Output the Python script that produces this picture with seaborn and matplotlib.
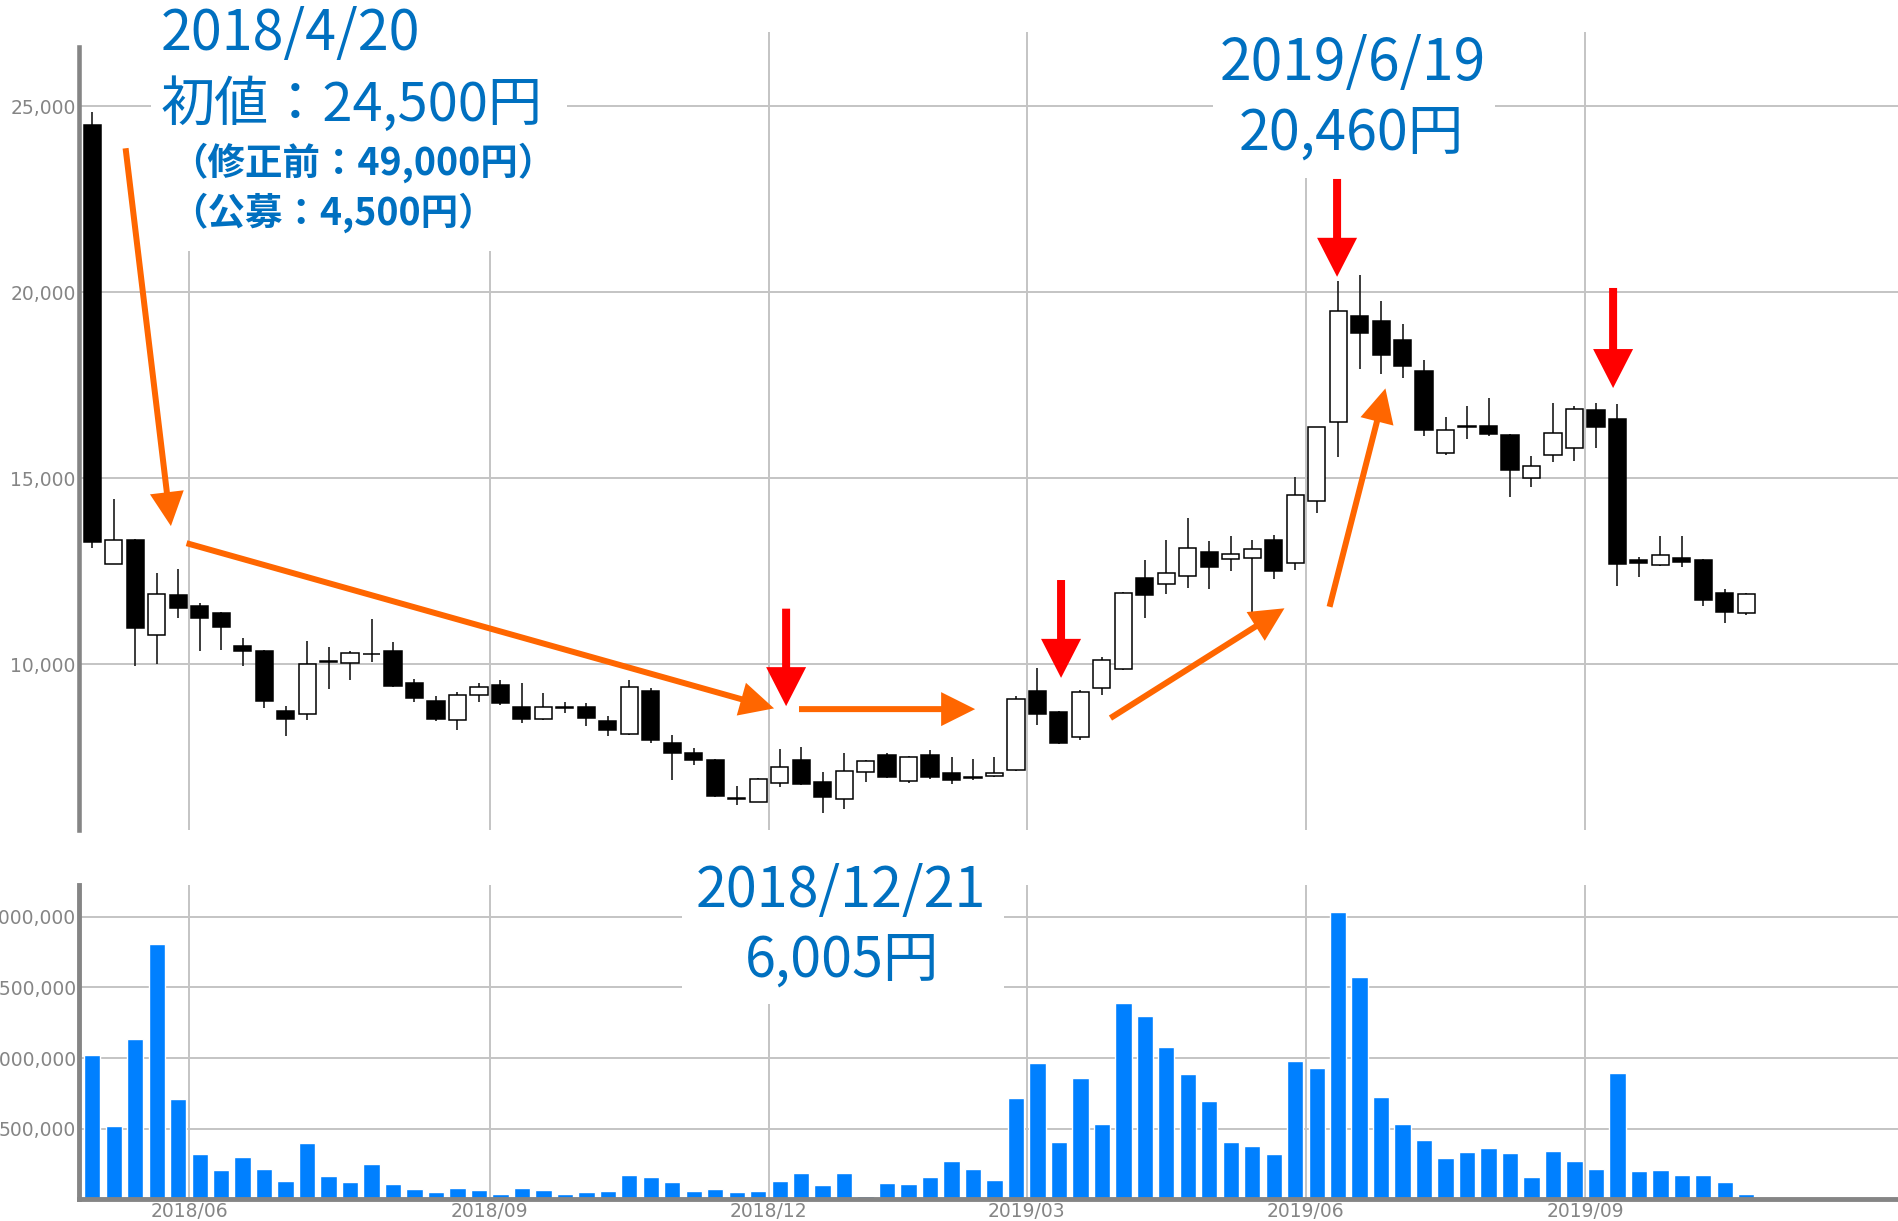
import numpy as np
import pandas as pd
import matplotlib
matplotlib.use("Agg")
import matplotlib.pyplot as plt
from matplotlib.patches import Rectangle
from matplotlib.ticker import FuncFormatter
import seaborn as sns

sns.set_style("white")
plt.rcParams["font.family"] = ["Noto Sans CJK JP", "DejaVu Sans"]

# weekly prices (yen), first week = IPO week 2018/4/20
opens = [24500, 12700, 13350, 10780, 11870, 11570, 11380, 10500, 10370, 8760,
         8670, 10070, 10030, 10270, 10350, 9500, 9020, 8510, 9180, 9450,
         8870, 8530, 8830, 8870, 8490, 8130, 9300, 7900, 7610, 7430,
         6380, 6310, 6820, 7420, 6850, 6390, 7120, 7570, 6870, 7570,
         7070, 6960, 6990, 7160, 9300, 8730, 8040, 9360, 9880, 12320,
         12160, 12380, 13020, 12830, 12850, 13350, 12740, 14400, 16530, 19370,
         19220, 18720, 17890, 15690, 16400, 16410, 16170, 15000, 15630, 15810,
         16840, 16590, 12810, 12670, 12870, 12810, 11930, 11380]
highs = [24850, 14440, 13360, 12470, 12560, 11660, 11400, 10700, 10390, 8880,
         10620, 10480, 10350, 11210, 10610, 9600, 9140, 9270, 9510, 9580,
         9510, 9220, 9000, 8960, 8620, 9580, 9360, 8100, 7750, 7450,
         6730, 6940, 7730, 7770, 7120, 7630, 7430, 7610, 7540, 7700,
         7500, 7450, 7500, 9140, 9900, 8760, 9310, 10190, 11950, 12810,
         13350, 13930, 13320, 13450, 13350, 13480, 15050, 16390, 20320, 20460,
         19780, 19150, 18190, 16640, 16950, 17150, 16200, 15600, 17040, 16950,
         17040, 17000, 12900, 13440, 13440, 12830, 12020, 11930]
lows = [13120, 12690, 9960, 10000, 11240, 10370, 10390, 9970, 8820, 8080,
        8510, 9340, 9580, 10080, 9400, 9000, 8490, 8240, 9000, 8910,
        8440, 8510, 8690, 8350, 8080, 8110, 7900, 6900, 7300, 6430,
        6220, 6300, 6720, 6760, 6005, 6110, 6850, 6940, 6820, 6930,
        6790, 6890, 6980, 7140, 8370, 7860, 7970, 9180, 9850, 11240,
        11890, 12050, 12020, 12520, 11240, 12290, 12540, 14060, 15570, 17930,
        17810, 17690, 16140, 15630, 16050, 16140, 14510, 14780, 15430, 15470,
        15810, 12110, 12340, 12650, 12610, 11570, 11110, 11330]
closes = [13300, 13350, 10970, 11900, 11530, 11260, 11000, 10370, 9020, 8540,
          10000, 10080, 10300, 10280, 9420, 9090, 8540, 9180, 9390, 8960,
          8530, 8870, 8850, 8550, 8240, 9400, 7970, 7610, 7420, 6470,
          6390, 6910, 7250, 6790, 6430, 7150, 7410, 6970, 7520, 6970,
          6900, 6970, 7090, 9060, 8670, 7880, 9260, 10120, 11920, 11870,
          12450, 13120, 12630, 12960, 13110, 12500, 14560, 16370, 19500, 18920,
          18320, 18020, 16300, 16300, 16370, 16200, 15230, 15340, 16210, 16860,
          16390, 12690, 12720, 12940, 12760, 11730, 11420, 11890]
volumes = [1021000, 522000, 1135000, 1806000, 713000, 324000, 208000, 302000, 213000, 133000,
           399000, 163000, 121000, 253000, 107000, 74000, 50000, 83000, 67000, 36000,
           83000, 69000, 41000, 50000, 60000, 175000, 161000, 121000, 62000, 74000,
           50000, 60000, 130000, 185000, 102000, 189000, 24000, 114000, 107000, 156000,
           274000, 213000, 138000, 720000, 962000, 406000, 861000, 533000, 1387000, 1297000,
           1080000, 887000, 698000, 408000, 378000, 321000, 979000, 927000, 2035000, 1575000,
           727000, 533000, 420000, 291000, 336000, 361000, 331000, 161000, 345000, 274000,
           218000, 892000, 203000, 208000, 173000, 173000, 121000, 36000]

# first weekly candle of each labelled month
month_labels = ["2018/06", "2018/09", "2018/12", "2019/03", "2019/06", "2019/09"]
month_first_week = [5, 19, 32, 44, 57, 70]

price_ticks = [10000, 15000, 20000, 25000]
price_minor = [6250, 7500, 8750, 11250, 12500, 17500, 21250, 22500]
volume_ticks = [500000, 1000000, 1500000, 2000000]

# arrows drawn on the chart: (x start, y start, x end, y end) in week / yen
red_arrows = [(32.3, 11500, 32.3, 8880), (45.1, 12270, 45.1, 9640),
              (57.95, 23050, 57.95, 20420), (70.8, 20120, 70.8, 17430)]
orange_arrows = [(1.55, 23875, 3.66, 13720), (4.39, 13260, 31.74, 8820),
                 (32.9, 8800, 41.1, 8800), (47.4, 8560, 55.5, 11510),
                 (57.6, 11550, 60.2, 17420)]

TEXT_BLUE = "#0070c0"
GRID = "#c4c4c4"
AXIS_GRAY = "#858585"

opens, highs, lows, closes = map(np.array, (opens, highs, lows, closes))
week = np.arange(len(closes))
grid_x = np.array(month_first_week) - 0.5
xlim = (-0.642, 84.11)

fig = plt.figure(figsize=(18.99, 12.21), dpi=100)
ax = fig.add_axes([0.04134, 0.32023, 0.95866, 0.65356])
axv = fig.add_axes([0.04134, 0.01769, 0.95866, 0.25749])

# candlesticks
up = closes >= opens
body_lo = np.minimum(opens, closes)
body_h = np.maximum(np.abs(closes - opens), 25)
ax.vlines(week, lows, highs, color="#1a1a1a", lw=1.2, zorder=2)
ax.bar(week, body_h, bottom=body_lo, width=0.8,
       color=["white" if u else "black" for u in up],
       edgecolor="black", linewidth=1.1, zorder=3)

ax.set_xlim(xlim)
ax.set_ylim(5551, 27000)
ax.set_xticks(grid_x)
ax.set_xticklabels([])
ax.set_yticks(price_ticks)
ax.set_yticks(price_minor, minor=True)
ax.yaxis.set_major_formatter(FuncFormatter(lambda v, p: f"{int(v):,}"))
ax.tick_params(axis="both", which="major", length=0, pad=2)
ax.tick_params(axis="y", which="major", labelsize=13.5, labelcolor=AXIS_GRAY,
               labelfontfamily="DejaVu Sans")
ax.tick_params(axis="y", which="minor", length=6, width=1, color="#a0a0a0")
ax.grid(True, which="major", color=GRID, lw=1.4)
ax.set_axisbelow(True)
for s in ["top", "right", "bottom"]:
    ax.spines[s].set_visible(False)
ax.spines["left"].set_color(AXIS_GRAY)
ax.spines["left"].set_linewidth(3.3)
ax.spines["left"].set_bounds(5551, 26600)

# volume
vol_df = pd.DataFrame({"week": week, "volume": volumes})
sns.barplot(data=vol_df, x="week", y="volume", native_scale=True, width=0.76,
            color="#0080ff", saturation=1, errorbar=None, ax=axv, zorder=2)
axv.set_xlim(xlim)
axv.set_ylim(0, 2223500)
axv.set_xlabel("")
axv.set_ylabel("")
axv.set_xticks(grid_x)
axv.set_xticklabels(month_labels)
axv.set_yticks(volume_ticks)
axv.yaxis.set_major_formatter(FuncFormatter(lambda v, p: f"{int(v):,}"))
axv.tick_params(axis="both", which="major", length=0, pad=2, labelsize=13.5,
                labelcolor=AXIS_GRAY, labelfontfamily="DejaVu Sans")
axv.grid(True, which="major", color=GRID, lw=1.4)
axv.set_axisbelow(True)
for s in ["top", "right"]:
    axv.spines[s].set_visible(False)
for s in ["left", "bottom"]:
    axv.spines[s].set_color(AXIS_GRAY)
    axv.spines[s].set_linewidth(3.5)

# arrows
for x0, y0, x1, y1 in red_arrows:
    ax.annotate("", xy=(x1, y1), xytext=(x0, y0), annotation_clip=False, zorder=6,
                arrowprops=dict(arrowstyle="simple,head_length=0.39,head_width=0.40,tail_width=0.08",
                                mutation_scale=72, color="#ff0000", lw=0,
                                shrinkA=0, shrinkB=0))
for x0, y0, x1, y1 in orange_arrows:
    ax.annotate("", xy=(x1, y1), xytext=(x0, y0), annotation_clip=False, zorder=6,
                arrowprops=dict(arrowstyle="simple,head_length=0.34,head_width=0.34,tail_width=0.06",
                                mutation_scale=72, color="#ff6600", lw=0,
                                shrinkA=0, shrinkB=0))

# white panels behind the callouts
W, H = 1899, 1221
for x0, y0, x1, y1 in [(151, 0, 567, 251), (1213, 0, 1495, 178), (682, 855, 1004, 1004)]:
    fig.add_artist(Rectangle((x0 / W, 1 - y1 / H), (x1 - x0) / W, (y1 - y0) / H,
                             transform=fig.transFigure, facecolor="white",
                             edgecolor="none", zorder=1))

fig.text(161 / W, 1 - 50 / H, "2018/4/20", color=TEXT_BLUE, fontsize=40, va="baseline", ha="left", zorder=3)
fig.text(161 / W, 1 - 121 / H, "初値：24,500円", color=TEXT_BLUE, fontsize=39, va="baseline", ha="left", zorder=3)
fig.text(170 / W, 1 - 175 / H, "（修正前：49,000円）", color=TEXT_BLUE, fontsize=27,
         fontweight="bold", va="baseline", ha="left", zorder=3)
fig.text(170 / W, 1 - 225 / H, "（公募：4,500円）", color=TEXT_BLUE, fontsize=27,
         fontweight="bold", va="baseline", ha="left", zorder=3)
fig.text(1353 / W, 1 - 80 / H, "2019/6/19", color=TEXT_BLUE, fontsize=41, va="baseline", ha="center", zorder=3)
fig.text(1351 / W, 1 - 150 / H, "20,460円", color=TEXT_BLUE, fontsize=40, va="baseline", ha="center", zorder=3)
fig.text(841 / W, 1 - 907 / H, "2018/12/21", color=TEXT_BLUE, fontsize=40, va="baseline", ha="center", zorder=3)
fig.text(842 / W, 1 - 977 / H, "6,005円", color=TEXT_BLUE, fontsize=40, va="baseline", ha="center", zorder=3)

fig.savefig("out.png", dpi=100)
